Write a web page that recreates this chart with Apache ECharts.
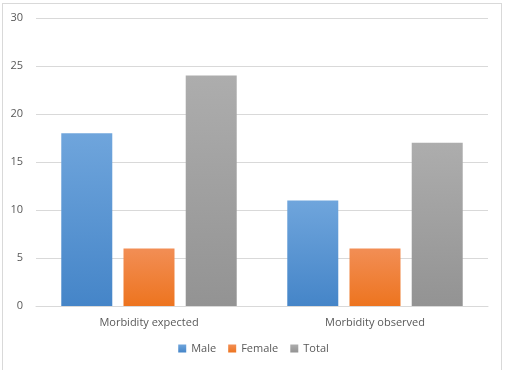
<!DOCTYPE html>
<html><head><meta charset="utf-8">
<script src="https://cdn.jsdelivr.net/npm/echarts@6/dist/echarts.min.js"></script>
<style>
html,body{margin:0;padding:0;background:#fff;}
#frame{position:absolute;left:2px;top:3px;width:500px;height:368px;border:1px solid #d9d9d9;box-sizing:border-box;}
#c{position:absolute;left:0;top:0;width:507px;height:370px;}
</style></head>
<body><div id="frame"></div><div id="c"></div>
<script>
const categories = ['Morbidity expected', 'Morbidity observed'];
const male = [18, 11];
const female = [6, 6];
const total = [24, 17];
const seriesNames = ['Male', 'Female', 'Total'];
const yTicks = [0, 5, 10, 15, 20, 25, 30];

function grad(top, bottom) {
  return new echarts.graphic.LinearGradient(0, 0, 0, 1, [{offset: 0, color: top}, {offset: 1, color: bottom}]);
}
const chart = echarts.init(document.getElementById('c'), null, {renderer: 'canvas'});
const font = '"Open Sans", sans-serif';
chart.setOption({
  animation: false,
  textStyle: {fontFamily: font},
  grid: {left: 36, right: 19, top: 18, bottom: 64},
  legend: {
    data: seriesNames, bottom: 11, left: 'center', itemWidth: 8, itemHeight: 8, itemGap: 12,
    icon: 'rect', textStyle: {color: '#595959', fontSize: 11, fontFamily: font}
  },
  xAxis: {
    type: 'category', data: categories,
    axisLine: {lineStyle: {color: '#d9d9d9'}}, axisTick: {show: false},
    axisLabel: {color: '#595959', fontSize: 11, margin: 11, fontFamily: font}
  },
  yAxis: {
    type: 'value', min: yTicks[0], max: yTicks[yTicks.length - 1], interval: 5,
    axisLine: {show: false}, axisTick: {show: false},
    splitLine: {lineStyle: {color: '#d9d9d9'}},
    axisLabel: {color: '#595959', fontSize: 11, margin: 13, fontFamily: font}
  },
  series: [
    {name: 'Male', type: 'bar', data: male, barWidth: 51, barGap: '22%', itemStyle: {color: grad('#6fa5dc', '#4585c8')}},
    {name: 'Female', type: 'bar', data: female, barWidth: 51, barGap: '22%', itemStyle: {color: grad('#f28e55', '#ed741f')}},
    {name: 'Total', type: 'bar', data: total, barWidth: 51, barGap: '22%', itemStyle: {color: grad('#adadad', '#939393')}}
  ]
});
</script></body></html>
